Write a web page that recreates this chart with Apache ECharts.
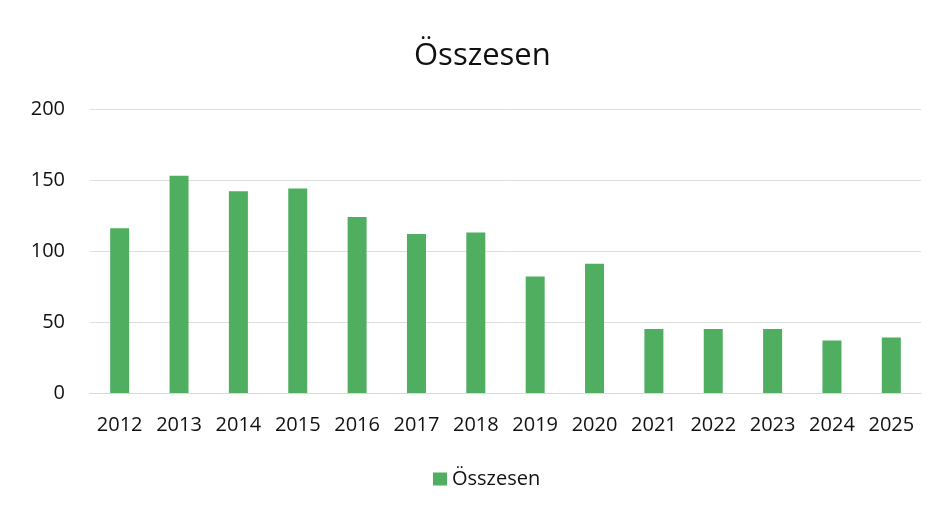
<!DOCTYPE html>
<html>
<head>
<meta charset="utf-8">
<script src="https://cdn.jsdelivr.net/npm/echarts@6/dist/echarts.min.js"></script>
<style>
  html, body { margin: 0; padding: 0; background: #fff; }
  #chart { width: 938px; height: 511px; }
</style>
</head>
<body>
<div id="chart"></div>
<script>
// évek és értékek
var years = ['2012', '2013', '2014', '2015', '2016', '2017', '2018',
             '2019', '2020', '2021', '2022', '2023', '2024', '2025'];
var osszesen = [116, 153, 142, 144, 124, 112, 113, 82, 91, 45, 45, 45, 37, 39];
var yTicks = [0, 50, 100, 150, 200];

var chart = echarts.init(document.getElementById('chart'));

var option = {
    backgroundColor: '#ffffff',
    textStyle: { fontFamily: 'Open Sans', color: '#1a1a1a' },
    title: {
        text: 'Összesen',
        left: 409,
        top: 36,
        textStyle: { fontFamily: 'Open Sans', fontSize: 31, fontWeight: 'normal', color: '#111' }
    },
    legend: {
        data: ['Összesen'],
        bottom: 17,
        left: 428,
        itemWidth: 14,
        itemHeight: 13,
        itemGap: 6,
        icon: 'rect',
        textStyle: { fontFamily: 'Open Sans', fontSize: 20, color: '#111' }
    },
    grid: { left: 90, right: 17, top: 109, bottom: 118 },
    xAxis: {
        type: 'category',
        data: years,
        axisLine: { show: true, lineStyle: { color: '#d9d9d9' } },
        axisTick: { show: false },
        axisLabel: { fontSize: 20, color: '#111', margin: 22, interval: 0 }
    },
    yAxis: {
        type: 'value',
        min: yTicks[0],
        max: yTicks[yTicks.length - 1],
        interval: 50,
        axisLine: { show: false },
        axisTick: { show: false },
        splitLine: { lineStyle: { color: '#dedede' } },
        axisLabel: { fontSize: 20, color: '#111', margin: 25 }
    },
    series: [{
        name: 'Összesen',
        type: 'bar',
        data: osszesen,
        barWidth: 19,
        itemStyle: { color: '#4fae5f' }
    }]
};
chart.setOption(option);
</script>
</body>
</html>
